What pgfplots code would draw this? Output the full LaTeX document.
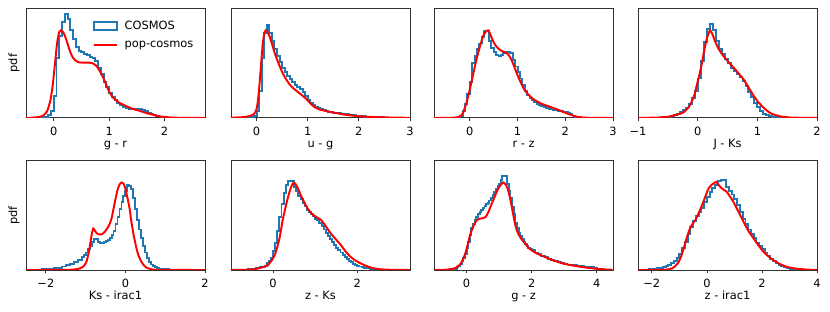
\documentclass[border=0pt]{standalone}
\usepackage{fontspec}
\setmainfont{DejaVu Sans}
\usepackage{pgfplots}
\pgfplotsset{compat=1.18}
\definecolor{mblue}{HTML}{1F77B4}
\newcommand{\fs}{\fontsize{8.2}{9.5}\selectfont}
\pgfplotsset{
  panel/.style={scale only axis, width=128.9pt, height=78.8pt, ymin=0, ymax=1, ytick=\empty,
    axis line style={black!80, line width=0.6pt}, tick align=outside, xtick pos=bottom,
    major tick length=2.5pt, tick style={black!80, line width=0.6pt},
    ticklabel style={font=\fs}, label style={font=\fs},
    xticklabel style={yshift=-0.5pt},
    xlabel style={at={(axis description cs:0.5,0)}, anchor=base, yshift=-21.2pt},
    ylabel style={at={(axis description cs:-0.067,0.5)}, anchor=center},
    anchor=south west},
  hist/.style={const plot mark left, color=mblue, line width=1.4pt, no marks,
    legend image code/.code={\draw[mblue, line width=1.2pt, fill=none] (0pt,-2.8pt) rectangle (16.5pt,2.8pt);}},
  pc/.style={red, line width=1.4pt, no marks, smooth, tension=0.35,
    legend image code/.code={\draw[red, line width=1.4pt] (0pt,0pt) -- (16.5pt,0pt);}},
}
\begin{document}
\begin{tikzpicture}
\useasboundingbox (0,0) rectangle (597.6pt,224.6pt);
% ---------- panel 1: g - r
\begin{axis}[panel, at={(18.72pt,139.7pt)}, xmin=-0.5, xmax=2.73, xtick={0,1,2}, xticklabels={0,1,2}, xlabel={g - r}, ylabel={pdf},
  legend style={at={(axis description cs:0.975,0.94)}, anchor=north east, draw=none, fill=none, font=\fs, row sep=3pt, cells={anchor=west}}]
\addplot[hist] coordinates {(-0.30,0) (-0.25,0.003) (-0.20,0.006) (-0.15,0.012) (-0.10,0.025) (-0.05,0.06) (0.00,0.20) (0.05,0.55) (0.10,0.75) (0.15,0.88) (0.20,0.95) (0.25,0.90) (0.30,0.80) (0.35,0.72) (0.40,0.65) (0.45,0.61) (0.50,0.60) (0.55,0.585) (0.60,0.575) (0.65,0.56) (0.70,0.545) (0.75,0.52) (0.80,0.46) (0.85,0.40) (0.90,0.33) (0.95,0.28) (1.00,0.23) (1.05,0.19) (1.10,0.16) (1.15,0.135) (1.20,0.115) (1.25,0.10) (1.30,0.09) (1.35,0.085) (1.40,0.082) (1.45,0.082) (1.50,0.085) (1.55,0.083) (1.60,0.075) (1.65,0.06) (1.70,0.045) (1.75,0.035) (1.80,0.025) (1.85,0.018) (1.90,0.013) (1.95,0.009) (2.00,0.006) (2.05,0.004) (2.10,0.003) (2.15,0.002) (2.20,0.001) (2.25,0)};
\addlegendentry{\hspace{3pt}COSMOS}
\addplot[pc] coordinates {(-0.5,0) (-0.4,0.002) (-0.3,0.006) (-0.2,0.018) (-0.12,0.06) (-0.06,0.16) (-0.02,0.29) (0.02,0.48) (0.06,0.68) (0.10,0.785) (0.13,0.80) (0.16,0.79) (0.19,0.765) (0.23,0.71) (0.28,0.63) (0.33,0.565) (0.38,0.53) (0.45,0.508) (0.55,0.505) (0.65,0.505) (0.72,0.495) (0.78,0.47) (0.84,0.42) (0.90,0.36) (0.95,0.30) (1.0,0.24) (1.08,0.18) (1.18,0.14) (1.3,0.11) (1.42,0.083) (1.55,0.065) (1.66,0.046) (1.78,0.03) (1.9,0.015) (2.05,0.006) (2.2,0.002) (2.4,0.0005) (2.73,0)};
\addlegendentry{\hspace{3pt}pop-cosmos}
\end{axis}
% ---------- panel 2: u - g
\begin{axis}[panel, at={(166.3pt,139.7pt)}, xmin=-0.5, xmax=3, xtick={0,1,2,3}, xticklabels={0,1,2,3}, xlabel={u - g}]
\addplot[hist] coordinates {(-0.30,0) (-0.20,0.003) (-0.15,0.005) (-0.10,0.01) (-0.05,0.02) (0.00,0.06) (0.05,0.25) (0.10,0.55) (0.15,0.78) (0.20,0.845) (0.25,0.78) (0.30,0.70) (0.35,0.63) (0.40,0.57) (0.45,0.51) (0.50,0.46) (0.55,0.42) (0.60,0.385) (0.65,0.355) (0.70,0.33) (0.75,0.305) (0.80,0.285) (0.85,0.26) (0.90,0.235) (0.95,0.20) (1.00,0.165) (1.05,0.14) (1.10,0.12) (1.15,0.10) (1.20,0.088) (1.25,0.078) (1.30,0.07) (1.35,0.064) (1.40,0.058) (1.45,0.053) (1.50,0.049) (1.55,0.045) (1.60,0.041) (1.65,0.038) (1.70,0.035) (1.75,0.032) (1.80,0.029) (1.85,0.026) (1.90,0.023) (1.95,0.02) (2.00,0.018) (2.05,0.016) (2.10,0.014) (2.15,0.012) (2.20,0.011) (2.25,0.01) (2.30,0.008) (2.35,0.007) (2.40,0.006) (2.45,0.005) (2.50,0.004) (2.60,0.003) (2.70,0.002) (2.80,0.001) (2.90,0.0005) (3.00,0)};
\addplot[pc] coordinates {(-0.5,0.002) (-0.3,0.006) (-0.15,0.015) (-0.05,0.035) (0.0,0.08) (0.03,0.17) (0.06,0.32) (0.09,0.5) (0.12,0.67) (0.15,0.77) (0.18,0.80) (0.21,0.79) (0.25,0.75) (0.30,0.68) (0.35,0.60) (0.42,0.51) (0.48,0.44) (0.55,0.375) (0.64,0.31) (0.72,0.27) (0.80,0.24) (0.88,0.21) (0.97,0.175) (1.05,0.135) (1.13,0.10) (1.25,0.075) (1.39,0.06) (1.55,0.045) (1.72,0.03) (1.9,0.02) (2.11,0.012) (2.4,0.006) (2.7,0.003) (3.0,0.001)};
\end{axis}
% ---------- panel 3: r - z
\begin{axis}[panel, at={(312.5pt,139.7pt)}, xmin=-0.75, xmax=3, xtick={0,1,2,3}, xticklabels={0,1,2,3}, xlabel={r - z}]
\addplot[hist] coordinates {(-0.40,0) (-0.35,0.002) (-0.30,0.004) (-0.25,0.008) (-0.20,0.02) (-0.15,0.06) (-0.10,0.13) (-0.05,0.22) (0.00,0.33) (0.05,0.50) (0.10,0.57) (0.15,0.63) (0.20,0.68) (0.25,0.74) (0.30,0.79) (0.35,0.795) (0.40,0.70) (0.45,0.64) (0.50,0.60) (0.55,0.575) (0.60,0.57) (0.65,0.575) (0.70,0.595) (0.75,0.60) (0.80,0.60) (0.85,0.59) (0.90,0.53) (0.95,0.47) (1.00,0.42) (1.05,0.36) (1.10,0.30) (1.15,0.25) (1.20,0.21) (1.25,0.18) (1.30,0.16) (1.35,0.145) (1.40,0.13) (1.45,0.12) (1.50,0.11) (1.55,0.10) (1.60,0.092) (1.65,0.085) (1.70,0.08) (1.75,0.075) (1.80,0.07) (1.85,0.066) (1.90,0.062) (1.95,0.058) (2.00,0.05) (2.05,0.044) (2.10,0.035) (2.15,0.022) (2.20,0.012) (2.25,0.006) (2.30,0.003) (2.35,0.001) (2.40,0)};
\addplot[pc] coordinates {(-0.75,0) (-0.4,0.001) (-0.28,0.004) (-0.2,0.015) (-0.14,0.046) (-0.07,0.14) (0.0,0.26) (0.07,0.40) (0.14,0.535) (0.21,0.65) (0.28,0.75) (0.34,0.79) (0.39,0.80) (0.44,0.75) (0.49,0.70) (0.55,0.655) (0.62,0.625) (0.68,0.61) (0.74,0.60) (0.8,0.58) (0.85,0.55) (0.92,0.48) (0.99,0.40) (1.06,0.33) (1.13,0.266) (1.22,0.215) (1.34,0.168) (1.5,0.13) (1.69,0.10) (1.83,0.078) (1.97,0.052) (2.1,0.03) (2.25,0.01) (2.4,0.003) (2.6,0) (3,0)};
\end{axis}
% ---------- panel 4: J - Ks
\begin{axis}[panel, at={(459.4pt,139.7pt)}, xmin=-1, xmax=2, xtick={-1,0,1,2}, xticklabels={−1,0,1,2}, xlabel={J - Ks}]
\addplot[hist] coordinates {(-1.00,0) (-0.70,0.002) (-0.65,0.003) (-0.60,0.005) (-0.55,0.008) (-0.50,0.012) (-0.45,0.018) (-0.40,0.026) (-0.35,0.037) (-0.30,0.052) (-0.25,0.07) (-0.20,0.095) (-0.15,0.13) (-0.10,0.18) (-0.05,0.25) (0.00,0.36) (0.05,0.52) (0.10,0.69) (0.15,0.81) (0.20,0.855) (0.25,0.80) (0.30,0.70) (0.35,0.63) (0.40,0.58) (0.45,0.54) (0.50,0.50) (0.55,0.46) (0.60,0.43) (0.65,0.40) (0.70,0.37) (0.75,0.34) (0.80,0.29) (0.85,0.24) (0.90,0.19) (0.95,0.14) (1.00,0.10) (1.05,0.065) (1.10,0.04) (1.15,0.025) (1.20,0.015) (1.25,0.009) (1.30,0.005) (1.35,0.003) (1.40,0.002) (1.45,0.001) (1.50,0)};
\addplot[pc] coordinates {(-1,0) (-0.7,0.003) (-0.5,0.01) (-0.35,0.03) (-0.24,0.05) (-0.15,0.1) (-0.1,0.15) (-0.05,0.22) (-0.02,0.29) (0.03,0.40) (0.07,0.50) (0.11,0.62) (0.15,0.72) (0.18,0.77) (0.21,0.80) (0.25,0.76) (0.29,0.70) (0.35,0.63) (0.43,0.566) (0.5,0.52) (0.6,0.46) (0.68,0.41) (0.77,0.35) (0.85,0.28) (0.94,0.20) (1.02,0.14) (1.11,0.09) (1.2,0.05) (1.28,0.03) (1.4,0.012) (1.55,0.004) (1.75,0.001) (2,0)};
\end{axis}
% ---------- panel 5: Ks - irac1
\begin{axis}[panel, at={(18.72pt,30.2pt)}, xmin=-2.5, xmax=2, xtick={-2,0,2}, xticklabels={−2,0,2}, xlabel={Ks - irac1}, ylabel={pdf}]
\addplot[hist] coordinates {(-2.50,0) (-2.30,0.002) (-2.20,0.004) (-2.10,0.005) (-2.00,0.007) (-1.90,0.01) (-1.80,0.015) (-1.70,0.022) (-1.60,0.032) (-1.50,0.043) (-1.40,0.055) (-1.30,0.072) (-1.20,0.095) (-1.10,0.12) (-1.05,0.14) (-1.00,0.16) (-0.95,0.19) (-0.90,0.22) (-0.85,0.26) (-0.80,0.285) (-0.75,0.28) (-0.70,0.26) (-0.65,0.245) (-0.60,0.245) (-0.55,0.255) (-0.50,0.265) (-0.45,0.275) (-0.40,0.29) (-0.35,0.32) (-0.30,0.36) (-0.25,0.42) (-0.20,0.48) (-0.15,0.56) (-0.10,0.62) (-0.05,0.68) (0.00,0.72) (0.05,0.78) (0.10,0.77) (0.15,0.74) (0.20,0.66) (0.25,0.56) (0.30,0.46) (0.35,0.37) (0.40,0.29) (0.45,0.22) (0.50,0.16) (0.55,0.11) (0.60,0.075) (0.65,0.05) (0.70,0.035) (0.75,0.025) (0.80,0.018) (0.85,0.013) (0.90,0.009) (0.95,0.007) (1.00,0.005) (1.10,0.003) (1.20,0.002) (1.30,0.001) (1.40,0)};
\addplot[pc] coordinates {(-2.5,0) (-1.6,0.001) (-1.3,0.004) (-1.14,0.015) (-1.05,0.035) (-0.98,0.076) (-0.93,0.15) (-0.89,0.23) (-0.85,0.32) (-0.81,0.38) (-0.77,0.36) (-0.72,0.335) (-0.66,0.325) (-0.6,0.325) (-0.53,0.345) (-0.47,0.374) (-0.41,0.41) (-0.35,0.47) (-0.3,0.56) (-0.25,0.65) (-0.2,0.73) (-0.15,0.78) (-0.1,0.80) (-0.05,0.79) (0.0,0.74) (0.05,0.66) (0.1,0.57) (0.15,0.44) (0.2,0.33) (0.275,0.2) (0.33,0.13) (0.4,0.076) (0.48,0.035) (0.57,0.015) (0.7,0.004) (0.9,0.001) (2,0)};
\end{axis}
% ---------- panel 6: z - Ks
\begin{axis}[panel, at={(166.3pt,30.2pt)}, xmin=-1, xmax=3.25, xtick={0,2}, xticklabels={0,2}, xlabel={z - Ks}]
\addplot[hist] coordinates {(-1.00,0) (-0.80,0.002) (-0.70,0.004) (-0.60,0.006) (-0.50,0.009) (-0.40,0.014) (-0.30,0.025) (-0.25,0.03) (-0.20,0.04) (-0.15,0.06) (-0.10,0.08) (-0.05,0.11) (0.00,0.17) (0.05,0.25) (0.10,0.36) (0.15,0.48) (0.20,0.60) (0.25,0.70) (0.30,0.78) (0.35,0.815) (0.40,0.815) (0.45,0.815) (0.50,0.76) (0.55,0.72) (0.60,0.68) (0.65,0.645) (0.70,0.61) (0.75,0.58) (0.80,0.55) (0.85,0.53) (0.90,0.51) (0.95,0.49) (1.00,0.47) (1.05,0.455) (1.10,0.43) (1.15,0.40) (1.20,0.37) (1.25,0.34) (1.30,0.31) (1.35,0.28) (1.40,0.255) (1.45,0.23) (1.50,0.205) (1.55,0.18) (1.60,0.16) (1.65,0.135) (1.70,0.115) (1.75,0.10) (1.80,0.085) (1.85,0.07) (1.90,0.058) (1.95,0.048) (2.00,0.04) (2.05,0.032) (2.10,0.026) (2.15,0.021) (2.20,0.018) (2.25,0.014) (2.30,0.011) (2.40,0.007) (2.50,0.004) (2.60,0.002) (2.70,0.001) (2.80,0)};
\addplot[pc] coordinates {(-1,0) (-0.6,0.003) (-0.4,0.01) (-0.25,0.025) (-0.12,0.046) (-0.03,0.09) (0.04,0.137) (0.1,0.21) (0.16,0.304) (0.22,0.44) (0.27,0.53) (0.33,0.63) (0.39,0.714) (0.44,0.77) (0.49,0.80) (0.54,0.78) (0.59,0.745) (0.65,0.69) (0.71,0.64) (0.8,0.575) (0.9,0.52) (1.0,0.49) (1.14,0.456) (1.25,0.40) (1.37,0.334) (1.49,0.28) (1.61,0.228) (1.72,0.17) (1.84,0.12) (1.96,0.085) (2.08,0.06) (2.24,0.033) (2.39,0.015) (2.6,0.005) (2.8,0.002) (3.25,0)};
\end{axis}
% ---------- panel 7: g - z
\begin{axis}[panel, at={(312.5pt,30.2pt)}, xmin=-1, xmax=4.5, xtick={0,2,4}, xticklabels={0,2,4}, xlabel={g - z}]
\addplot[hist] coordinates {(-1.00,0) (-0.60,0.002) (-0.50,0.005) (-0.40,0.01) (-0.30,0.025) (-0.25,0.035) (-0.20,0.05) (-0.15,0.08) (-0.10,0.11) (-0.05,0.15) (0.00,0.2) (0.05,0.26) (0.10,0.32) (0.15,0.38) (0.20,0.42) (0.25,0.46) (0.30,0.48) (0.35,0.51) (0.40,0.53) (0.45,0.55) (0.50,0.57) (0.55,0.585) (0.60,0.60) (0.65,0.615) (0.70,0.635) (0.75,0.66) (0.80,0.69) (0.85,0.715) (0.90,0.74) (0.95,0.77) (1.00,0.79) (1.05,0.82) (1.10,0.855) (1.15,0.86) (1.20,0.86) (1.25,0.79) (1.30,0.72) (1.35,0.66) (1.40,0.58) (1.45,0.51) (1.50,0.43) (1.55,0.38) (1.60,0.34) (1.65,0.31) (1.70,0.285) (1.75,0.26) (1.80,0.235) (1.85,0.22) (1.90,0.205) (1.95,0.19) (2.00,0.18) (2.10,0.16) (2.20,0.145) (2.30,0.13) (2.40,0.115) (2.50,0.10) (2.60,0.09) (2.70,0.08) (2.80,0.07) (2.90,0.062) (3.00,0.055) (3.10,0.05) (3.20,0.046) (3.30,0.042) (3.40,0.038) (3.50,0.035) (3.60,0.032) (3.70,0.03) (3.80,0.026) (3.90,0.02) (4.00,0.013) (4.10,0.007) (4.20,0.003) (4.30,0.001) (4.40,0)};
\addplot[pc] coordinates {(-1,0) (-0.7,0.002) (-0.5,0.006) (-0.33,0.02) (-0.2,0.05) (-0.12,0.09) (-0.04,0.15) (0.03,0.228) (0.1,0.31) (0.16,0.365) (0.22,0.41) (0.29,0.447) (0.36,0.465) (0.44,0.47) (0.52,0.475) (0.59,0.486) (0.67,0.53) (0.75,0.59) (0.85,0.66) (0.95,0.73) (1.04,0.775) (1.125,0.80) (1.19,0.785) (1.26,0.745) (1.31,0.69) (1.36,0.623) (1.43,0.51) (1.51,0.395) (1.59,0.33) (1.67,0.289) (1.8,0.24) (1.92,0.198) (2.1,0.16) (2.33,0.128) (2.58,0.098) (2.84,0.07) (3.1,0.05) (3.36,0.036) (3.6,0.025) (3.87,0.015) (4.1,0.008) (4.48,0.002)};
\end{axis}
% ---------- panel 8: z - irac1
\begin{axis}[panel, at={(459.4pt,30.2pt)}, xmin=-2.5, xmax=4, xtick={-2,0,2,4}, xticklabels={−2,0,2,4}, xlabel={z - irac1}]
\addplot[hist] coordinates {(-2.50,0) (-2.30,0.002) (-2.20,0.004) (-2.10,0.006) (-2.00,0.008) (-1.90,0.011) (-1.80,0.015) (-1.70,0.02) (-1.60,0.027) (-1.50,0.035) (-1.40,0.045) (-1.30,0.06) (-1.20,0.08) (-1.10,0.11) (-1.00,0.15) (-0.90,0.2) (-0.80,0.26) (-0.70,0.33) (-0.60,0.39) (-0.50,0.445) (-0.40,0.49) (-0.30,0.53) (-0.20,0.57) (-0.10,0.62) (0.00,0.67) (0.10,0.71) (0.20,0.75) (0.30,0.78) (0.40,0.81) (0.50,0.82) (0.60,0.82) (0.70,0.76) (0.80,0.72) (0.90,0.69) (1.00,0.65) (1.10,0.59) (1.20,0.53) (1.30,0.47) (1.40,0.42) (1.50,0.37) (1.60,0.33) (1.70,0.29) (1.80,0.25) (1.90,0.22) (2.00,0.19) (2.10,0.16) (2.20,0.13) (2.30,0.1) (2.40,0.08) (2.50,0.06) (2.60,0.047) (2.70,0.035) (2.80,0.025) (2.90,0.018) (3.00,0.012) (3.10,0.008) (3.20,0.005) (3.30,0.003) (3.40,0.002) (3.60,0)};
\addplot[pc] coordinates {(-2.5,0) (-1.7,0.001) (-1.4,0.006) (-1.27,0.015) (-1.15,0.035) (-1.02,0.076) (-0.93,0.13) (-0.84,0.2) (-0.75,0.28) (-0.66,0.35) (-0.55,0.41) (-0.42,0.456) (-0.3,0.52) (-0.18,0.59) (-0.06,0.67) (0.06,0.745) (0.18,0.78) (0.26,0.795) (0.34,0.805) (0.42,0.78) (0.5,0.755) (0.6,0.735) (0.72,0.714) (0.84,0.67) (0.96,0.623) (1.15,0.53) (1.33,0.44) (1.5,0.36) (1.69,0.29) (1.87,0.225) (2.05,0.167) (2.23,0.125) (2.41,0.09) (2.65,0.055) (2.89,0.03) (3.13,0.016) (3.37,0.009) (3.7,0.003) (4,0.001)};
\end{axis}
\end{tikzpicture}
\end{document}
